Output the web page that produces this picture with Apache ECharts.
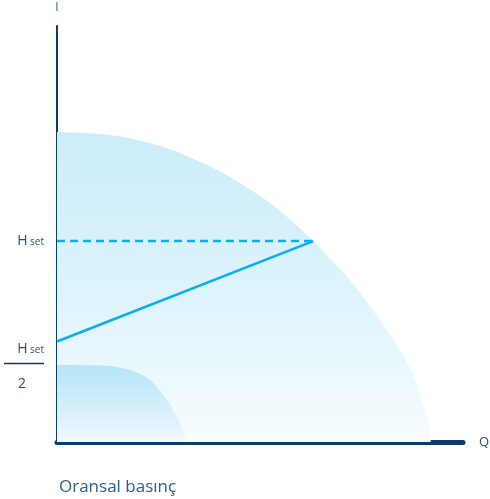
<!DOCTYPE html>
<html>
<head>
<meta charset="utf-8">
<script src="https://cdn.jsdelivr.net/npm/echarts@6/dist/echarts.min.js"></script>
<style>
  html, body { margin: 0; padding: 0; background: #ffffff; }
  #chart { width: 490px; height: 499px; }
</style>
</head>
<body>
<div id="chart"></div>
<script>
// Pump curve at maximum speed: [Q, H]
const maxCurve = [
  [0, 74.5], [8.1, 74.2], [16.5, 73.3], [24.6, 71.4], [30.3, 69.5],
  [36.5, 66.8], [42.6, 63.7], [50.7, 58.7], [56.7, 54.1], [63.1, 48.3],
  [72.2, 38.9], [78.3, 31.0], [84.5, 22.1], [87.7, 16.1], [89.9, 10.1],
  [91.4, 5.3], [92.1, 0]
];
// Pump curve at minimum speed: [Q, H]
const minCurve = [
  [0, 18.5], [12.3, 18.3], [18.0, 17.3], [22.9, 14.9],
  [27.1, 10.1], [30.3, 4.6], [32.0, 0]
];
// Set point and proportional-pressure control line
const hSet = 48.3;
const qAtSet = 63.1;
const controlLine = [[0, hSet / 2], [qAtSet, hSet]];
const setLine = [[0, hSet], [qAtSet, hSet]];
const yTickValues = [hSet / 2, hSet];

const navy = '#0b3c6d';
const textBlue = '#1d4f80';
const lineBlue = '#0aaeec';

const chart = echarts.init(document.getElementById('chart'));
chart.setOption({
  animation: false,
  title: {
    text: 'Oransal basınç',
    left: 54,
    top: 474,
    textStyle: { fontFamily: 'Open Sans', fontSize: 17, fontWeight: 'normal', color: '#2a5e90' }
  },
  grid: { left: 57, right: 27, top: 26, bottom: 57, outerBoundsMode: 'none', containLabel: false },
  xAxis: {
    type: 'value', min: 0, max: 100,
    offset: 2.5,
    name: 'Q',
    nameLocation: 'end',
    nameGap: 16,
    nameTextStyle: { fontFamily: 'Open Sans', fontSize: 13, color: textBlue },
    axisLine: { lineStyle: { color: navy, width: 5 } },
    axisTick: { show: false },
    axisLabel: { show: false },
    splitLine: { show: false }
  },
  yAxis: {
    type: 'value', min: 0, max: 100,
    offset: 1,
    name: 'I',
    nameLocation: 'end',
    nameGap: 12,
    nameTextStyle: { fontFamily: 'Open Sans', fontSize: 12, color: '#2f5f93', align: 'center' },
    axisLine: { lineStyle: { color: navy, width: 2 } },
    axisTick: { show: false },
    splitLine: { show: false },
    axisLabel: {
      customValues: yTickValues,
      margin: 12,
      fontFamily: 'Open Sans',
      color: textBlue,
      formatter: function (v) {
        if (Math.abs(v - hSet) < 0.01) return '{h|H}{s| set}';
        // fraction H set / 2, hanging below its tick
        return '{sp|}\n{h|H}{s| set}\n{bar|}\n{two|2}';
      },
      rich: {
        sp: { lineHeight: 54, height: 54 },
        h: { fontFamily: 'Open Sans', fontSize: 14, color: textBlue, lineHeight: 16 },
        s: { fontFamily: 'Open Sans', fontSize: 10, color: textBlue, lineHeight: 16, padding: [3, 0, 0, 0] },
        bar: { width: 40, height: 1.5, backgroundColor: navy, lineHeight: 14 },
        two: { fontFamily: 'Open Sans', fontSize: 14, color: textBlue, width: 40, align: 'center', lineHeight: 26, padding: [0, 2, 0, 0] }
      }
    }
  },
  series: [
    {
      type: 'line',
      data: maxCurve,
      smooth: 0.25,
      showSymbol: false,
      silent: true,
      lineStyle: { width: 0 },
      areaStyle: {
        opacity: 1,
        color: new echarts.graphic.LinearGradient(0, 0, 0, 1, [
          { offset: 0, color: '#cbedfa' },
          { offset: 0.55, color: '#def4fc' },
          { offset: 1, color: '#f8fcfe' }
        ])
      },
      z: 1
    },
    {
      type: 'line',
      data: minCurve,
      smooth: 0.3,
      showSymbol: false,
      silent: true,
      lineStyle: { width: 0 },
      areaStyle: {
        opacity: 1,
        color: new echarts.graphic.LinearGradient(0, 0, 0, 1, [
          { offset: 0, color: '#b6e5f8' },
          { offset: 0.6, color: '#d6f0fb' },
          { offset: 1, color: '#f2fafd' }
        ])
      },
      z: 2
    },
    {
      type: 'line',
      data: setLine,
      showSymbol: false,
      silent: true,
      lineStyle: { color: lineBlue, width: 2.5, type: [8, 5] },
      z: 3
    },
    {
      type: 'line',
      data: controlLine,
      showSymbol: false,
      silent: true,
      lineStyle: { color: lineBlue, width: 2.5 },
      z: 3
    }
  ]
});
</script>
</body>
</html>
